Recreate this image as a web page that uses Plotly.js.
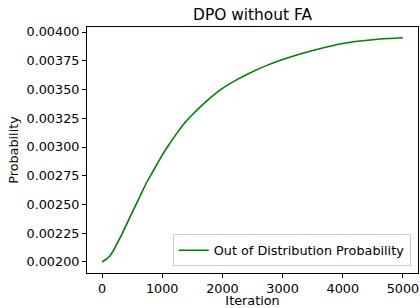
<!DOCTYPE html>
<html>
<head>
<meta charset="utf-8">
<script src="https://cdn.plot.ly/plotly-3.0.1.min.js"></script>
<style>html,body{margin:0;padding:0;background:#fff;}#chart{width:420px;height:308px;}</style>
</head>
<body>
<div id="chart"></div>
<script>
const iterations = [0, 125, 250, 375, 500, 625, 750, 875, 1000, 1125, 1250, 1375, 1500, 1750, 2000, 2250, 2500, 2750, 3000, 3250, 3500, 3750, 4000, 4250, 4500, 4750, 5000];
const probability = [0.00200, 0.00205, 0.00216, 0.00229, 0.00243, 0.002565, 0.00270, 0.002815, 0.00293, 0.00303, 0.003125, 0.00321, 0.00328, 0.003405, 0.00351, 0.003588, 0.003655, 0.003712, 0.00376, 0.003802, 0.003839, 0.003872, 0.00390, 0.003919, 0.003933, 0.003943, 0.00395];
const seriesName = "Out of Distribution Probability";
const chartTitle = "DPO without FA";
const xLabel = "Iteration";
const yLabel = "Probability";

const font = {family: "DejaVu Sans", size: 12.8, color: "#000"};

Plotly.newPlot("chart", [{
  x: iterations,
  y: probability,
  type: "scatter",
  mode: "lines",
  name: seriesName,
  line: {color: "#008000", width: 1.6, shape: "spline", smoothing: 1}
}], {
  width: 420, height: 308,
  margin: {l: 87, r: 2, t: 27, b: 35},
  paper_bgcolor: "#fff", plot_bgcolor: "#fff",
  font: font,
  showlegend: true,
  title: {text: chartTitle, font: {family: "DejaVu Sans", size: 15.4, color: "#000"}, x: 0.5, xref: "paper", xanchor: "center", y: 1 - 15/308, yref: "container", yanchor: "middle"},
  xaxis: {
    range: [-250, 5250], tick0: 0, dtick: 1000, showgrid: false, zeroline: false,
    showline: true, linecolor: "#000", linewidth: 1, mirror: true,
    ticks: "outside", ticklen: 4, tickcolor: "#000", tickwidth: 1,
    tickfont: font,
    title: {text: xLabel, font: font, standoff: 1}
  },
  yaxis: {
    range: [0.0019043, 0.0040435], tick0: 0.002, dtick: 0.00025, tickformat: ".5f",
    showgrid: false, zeroline: false,
    showline: true, linecolor: "#000", linewidth: 1, mirror: true,
    ticks: "outside", ticklen: 4, tickcolor: "#000", tickwidth: 1,
    tickfont: font,
    title: {text: yLabel, font: font, standoff: 5}
  },
  legend: {
    x: 0.978, y: 0.027, xanchor: "right", yanchor: "bottom",
    bgcolor: "rgba(255,255,255,0.8)", bordercolor: "#cccccc", borderwidth: 1,
    font: font
  }
}, {staticPlot: true, displayModeBar: false});
</script>
</body>
</html>
